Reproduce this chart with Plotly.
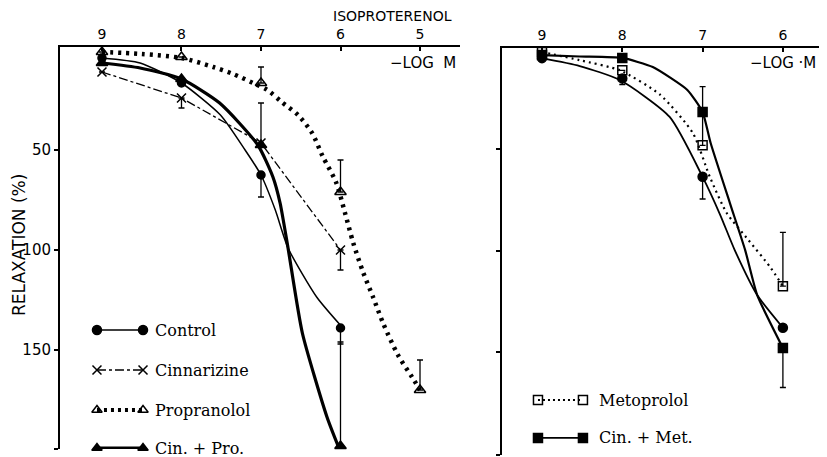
import plotly.graph_objects as go

# ---------------- data ----------------
# Left panel: -log M of isoproterenol
x_left = [9, 8, 7, 6]
x_prop = [9, 8, 7, 6, 5]
control_l = [4, 16.5, 62.5, 139]
control_l_err_down = [0, 0, 11, 8]
cinnarizine = [11, 24, 46.5, 100]
cinnarizine_err_down = [0, 5, 0, 10]
propranolol = [1, 3.5, 16.5, 71, 170]
propranolol_err_up = [0, 0, 8, 16, 15]
cin_pro = [6.5, 14.5, 47.5, 198]
cin_pro_err_up = [0, 0, 21, 52]

# fitted curves drawn in the left panel
curve_control_l_x = [9.0, 8.52, 8.0, 7.51, 7.2, 7.0, 6.82, 6.66, 6.30, 5.97]
curve_control_l_y = [4, 6.5, 16.5, 32.5, 50, 62.5, 80, 99, 123.5, 139]
curve_prop_x = [9.0, 8.5, 8.0, 7.6, 7.35, 7.1, 6.92, 6.74, 6.535, 6.358, 6.22, 6.057,
                5.943, 5.843, 5.717, 5.591, 5.465, 5.277, 5.101, 5.0]
curve_prop_y = [1, 2, 4, 8.5, 12, 16.5, 20, 26, 32.5, 41.5, 53.5, 66,
                81.5, 96, 111, 123.5, 136.5, 152.5, 163.5, 170]
curve_cinpro_x = [9.0, 8.52, 8.0, 7.52, 7.04, 6.85, 6.76, 6.66, 6.48, 6.17, 6.03]
curve_cinpro_y = [6.5, 9, 14.5, 26.5, 47.5, 63.5, 76.5, 99, 141.5, 183.5, 198]

# Right panel
x_right = [9, 8, 7, 6]
control_r = [5, 15, 63.5, 138]
control_r_err_down = [0, 3, 11, 0]
metoprolol = [2, 11, 48, 117.5]
metoprolol_err_up = [0, 0, 16, 26.5]
cin_met = [3.5, 4.9, 31.6, 148]
cin_met_err_up = [0, 0, 12.5, 0]
cin_met_err_down = [0, 0, 0, 19.5]

curve_control_r_x = [9.0, 8.53, 8.03, 7.41, 7.0, 6.78, 6.60, 6.32, 6.0]
curve_control_r_y = [5, 8.9, 15.8, 34, 63.6, 82.4, 99.7, 121.9, 138]
curve_metop_x = [9.0, 8.53, 8.03, 7.53, 7.12, 6.91, 6.70, 6.43, 6.16, 6.0]
curve_metop_y = [2, 6, 11, 23, 42, 63.6, 81.4, 94.7, 108, 117.5]
curve_cinmet_x = [9.0, 8.53, 8.0, 7.62, 7.19, 7.0, 6.90, 6.66, 6.47, 6.32, 6.0]
curve_cinmet_y = [3.5, 4.2, 4.9, 9.4, 20.7, 31.6, 46.9, 76.5, 99.7, 121.9, 148]

tick_x_left = [9, 8, 7, 6, 5]
tick_x_left_text = ["9", "8", "7", "6", "5"]
tick_x_right = [9, 8, 7, 6]
tick_x_right_text = ["9", "8", "7", "6"]
tick_y = [50, 100, 150]
tick_y_text = ["50", "100", "150"]

legend_left = ["Control", "Cinnarizine", "Propranolol", "Cin. + Pro."]
legend_right = ["Metoprolol", "Cin. + Met."]

# ---------------- page geometry (page body has an 8px margin) ----------------
OFF = 8
W, H = 827 - OFF, 457 - OFF


def px(x):
    return (x - OFF) / W


def py(y):
    return 1 - (y - OFF) / H


K = "black"
fig = go.Figure()


def curve(x, y, xa, ya, width, dash="solid", smoothing=0.6):
    fig.add_trace(go.Scatter(x=x, y=y, xaxis=xa, yaxis=ya, mode="lines",
                             line=dict(color=K, width=width, dash=dash, shape="spline", smoothing=smoothing),
                             cliponaxis=False, hoverinfo="skip"))


def pts(x, y, xa, ya, symbol, size, up=None, down=None, line=None):
    err = None
    if up is not None or down is not None:
        n = len(y)
        err = dict(type="data", symmetric=False,
                   array=down if down is not None else [0] * n,
                   arrayminus=up if up is not None else [0] * n,
                   color=K, thickness=1.3, width=3)
    fig.add_trace(go.Scatter(x=x, y=y, xaxis=xa, yaxis=ya,
                             mode="markers" if line is None else "lines+markers",
                             line=line,
                             marker=dict(symbol=symbol, size=size, color=K,
                                         line=dict(color=K, width=1.5)),
                             error_y=err, cliponaxis=False, hoverinfo="skip"))


# left panel curves
curve(curve_control_l_x, curve_control_l_y, "x", "y", 1.5)
curve(curve_prop_x, curve_prop_y, "x", "y", 4.5, "3px,5px", smoothing=0.8)
curve(curve_cinpro_x, curve_cinpro_y, "x", "y", 3.2)
# left panel points
pts(x_left, control_l, "x", "y", "circle", 8, down=control_l_err_down)
pts(x_left, cinnarizine, "x", "y", "x-thin", 9, down=cinnarizine_err_down,
    line=dict(color=K, width=1.3, dash="dashdot"))
pts(x_prop, propranolol, "x", "y", "triangle-up-open", 10, up=propranolol_err_up)
pts(x_left, cin_pro, "x", "y", "triangle-up", 10, up=cin_pro_err_up)

# right panel curves
curve(curve_control_r_x, curve_control_r_y, "x2", "y2", 1.8)
curve(curve_metop_x, curve_metop_y, "x2", "y2", 2.2, "2px,4px")
curve(curve_cinmet_x, curve_cinmet_y, "x2", "y2", 2.2, smoothing=0.5)
# right panel points
pts(x_right, control_r, "x2", "y2", "circle", 9, down=control_r_err_down)
pts(x_right, metoprolol, "x2", "y2", "square-open", 9, up=metoprolol_err_up)
pts(x_right, cin_met, "x2", "y2", "square", 9, up=cin_met_err_up, down=cin_met_err_down)

# ---------------- legend samples (drawn inside the axes) ----------------
ann = []
leg_l_y = [140, 160, 180, 199]
leg_l_styles = [
    dict(sym="circle", line=dict(color=K, width=1.5)),
    dict(sym="x-thin", line=dict(color=K, width=1.3, dash="dashdot")),
    dict(sym="triangle-up-open", line=dict(color=K, width=4, dash="3px,4px")),
    dict(sym="triangle-up", line=dict(color=K, width=3)),
]
for name, yy, st in zip(legend_left, leg_l_y, leg_l_styles):
    fig.add_trace(go.Scatter(x=[9.063, 8.484], y=[yy, yy], xaxis="x", yaxis="y",
                             mode="lines+markers", line=st["line"],
                             marker=dict(symbol=st["sym"], size=9, color=K, line=dict(color=K, width=1.5)),
                             cliponaxis=False, hoverinfo="skip"))
    ann.append(dict(x=8.358, y=yy, xref="x", yref="y", text=name, showarrow=False,
                    xanchor="left", yanchor="middle",
                    font=dict(family="DejaVu Serif", size=16, color=K)))

leg_r_y = [173.7, 192.4]
leg_r_styles = [
    dict(sym="square-open", line=dict(color=K, width=2, dash="2px,3px")),
    dict(sym="square", line=dict(color=K, width=1.8)),
]
for name, yy, st in zip(legend_right, leg_r_y, leg_r_styles):
    fig.add_trace(go.Scatter(x=[9.05, 8.49], y=[yy, yy], xaxis="x2", yaxis="y2",
                             mode="lines+markers", line=st["line"],
                             marker=dict(symbol=st["sym"], size=9, color=K, line=dict(color=K, width=1.5)),
                             cliponaxis=False, hoverinfo="skip"))
    ann.append(dict(x=8.315, y=yy, xref="x2", yref="y2", text=name, showarrow=False,
                    xanchor="left", yanchor="middle",
                    font=dict(family="DejaVu Serif", size=16, color=K)))

SANS = "DejaVu Sans"
common_ann = dict(xref="paper", yref="paper", showarrow=False, xanchor="center", yanchor="middle")
ann += [
    dict(x=px(392), y=py(16), text="ISOPROTERENOL", font=dict(family=SANS, size=14, color=K), **common_ann),
    dict(x=px(423), y=py(63), text="−LOG  M", font=dict(family=SANS, size=15, color=K), **common_ann),
    dict(x=px(783), y=py(63), text="−LOG ·M", font=dict(family=SANS, size=15, color=K), **common_ann),
    dict(x=px(19), y=py(245), text="RELAXATION (%)", textangle=-90,
         font=dict(family=SANS, size=17, color=K), **common_ann),
]

axis_x = dict(showline=True, linecolor=K, linewidth=2, showgrid=False, zeroline=False,
              ticks="inside", tickcolor=K, tickwidth=2, ticklen=4,
              tickfont=dict(family=SANS, size=14, color=K))
axis_y = dict(showline=True, linecolor=K, linewidth=2, showgrid=False, zeroline=False,
              ticks="outside", tickcolor=K, tickwidth=2, ticklen=4)

fig.update_layout(
    width=W, height=H, margin=dict(l=0, r=0, t=0, b=0),
    paper_bgcolor="white", plot_bgcolor="white", showlegend=False,
    annotations=ann,
    xaxis=dict(domain=[px(60), px(460)], range=[9.528, 4.497], side="top", anchor="y",
               tickvals=tick_x_left, ticktext=tick_x_left_text, **axis_x),
    yaxis=dict(domain=[py(449), py(47)], range=[199.5, -1.5], anchor="x",
               tickvals=tick_y + [199.3], ticktext=tick_y_text + [""],
               tickfont=dict(family=SANS, size=15, color=K), **axis_y),
    xaxis2=dict(domain=[px(502), px(820)], range=[9.498, 5.538], side="top", anchor="y2",
                tickvals=tick_x_right, ticktext=tick_x_right_text, **axis_x),
    yaxis2=dict(domain=[max(py(455), 0), py(48)], range=[200.8, 0], anchor="x2",
                tickvals=tick_y + [200.6], ticktext=tick_y_text + [""], showticklabels=False,
                **axis_y),
)

fig.write_html("out.html")
